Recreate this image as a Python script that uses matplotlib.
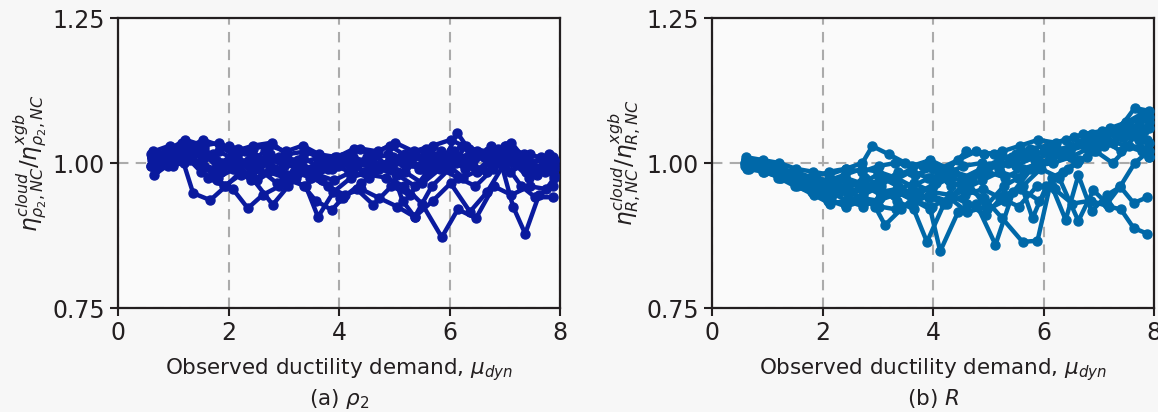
import matplotlib
matplotlib.use("Agg")
import matplotlib.pyplot as plt

# Ratio of cloud-based to XGBoost-based efficiency vs observed ductility demand
# (a) spectral-shape parameter rho_2
MU_RHO2 = [
    [0.62, 0.95, 1.22, 1.55, 1.83, 2.10, 2.45, 2.78, 3.05, 3.40, 3.72, 4.05, 4.38, 4.70, 5.02, 5.35, 5.70, 6.02, 6.35, 6.70, 7.02, 7.35, 7.65, 7.90],
    [0.60, 0.88, 1.18, 1.46, 1.75, 2.05, 2.36, 2.66, 2.98, 3.30, 3.62, 3.92, 4.25, 4.58, 4.90, 5.22, 5.55, 5.86, 6.14, 6.45, 6.80, 7.12, 7.42, 7.72, 7.88],
    [0.65, 0.92, 1.12, 1.36, 1.67, 1.95, 2.22, 2.52, 2.85, 3.15, 3.48, 3.80, 4.12, 4.45, 4.80, 5.12, 5.45, 5.78, 6.08, 6.42, 6.75, 7.05, 7.38, 7.70, 7.90],
    [0.62, 0.90, 1.20, 1.50, 1.80, 2.08, 2.35, 2.62, 2.92, 3.22, 3.55, 3.85, 4.18, 4.50, 4.82, 5.15, 5.48, 5.80, 6.12, 6.45, 6.78, 7.10, 7.40, 7.70, 7.88],
    [0.68, 0.98, 1.28, 1.58, 1.88, 2.18, 2.48, 2.80, 3.10, 3.40, 3.62, 3.90, 4.22, 4.55, 4.88, 5.20, 5.52, 5.85, 6.18, 6.50, 6.82, 7.15, 7.45, 7.75, 7.90],
    [0.60, 0.90, 1.15, 1.45, 1.72, 2.00, 2.30, 2.60, 2.92, 3.25, 3.55, 3.88, 4.20, 4.52, 4.85, 5.18, 5.50, 5.86, 6.15, 6.48, 6.80, 7.12, 7.45, 7.75, 7.90],
    [0.64, 0.94, 1.25, 1.55, 1.85, 2.15, 2.45, 2.75, 3.05, 3.35, 3.68, 4.00, 4.32, 4.65, 4.98, 5.30, 5.62, 5.95, 6.28, 6.60, 6.92, 7.15, 7.37, 7.62, 7.88],
    [0.70, 1.00, 1.30, 1.62, 1.92, 2.22, 2.55, 2.88, 3.18, 3.50, 3.80, 4.10, 4.40, 4.72, 5.05, 5.37, 5.70, 6.02, 6.37, 6.68, 7.00, 7.30, 7.55, 7.87],
    [0.62, 0.92, 1.22, 1.52, 1.82, 2.12, 2.42, 2.80, 3.08, 3.38, 3.70, 4.02, 4.32, 4.62, 4.95, 5.28, 5.60, 5.92, 6.25, 6.58, 6.92, 7.25, 7.55, 7.85],
    [0.66, 0.96, 1.26, 1.56, 1.86, 2.16, 2.46, 2.76, 3.06, 3.36, 3.58, 3.87, 4.07, 4.40, 4.72, 5.05, 5.38, 5.70, 6.02, 6.35, 6.68, 7.00, 7.32, 7.62, 7.90],
    [0.60, 0.90, 1.20, 1.48, 1.78, 2.08, 2.38, 2.70, 3.00, 3.32, 3.65, 3.98, 4.30, 4.62, 4.95, 5.15, 5.37, 5.68, 6.00, 6.30, 6.62, 6.95, 7.28, 7.58, 7.88],
    [0.64, 0.94, 1.24, 1.54, 1.84, 2.14, 2.44, 2.74, 3.04, 3.34, 3.64, 3.96, 4.28, 4.60, 4.92, 5.25, 5.58, 5.90, 6.22, 6.55, 6.88, 7.20, 7.50, 7.80],
    [0.63, 0.93, 1.23, 1.53, 1.83, 2.13, 2.43, 2.73, 3.03, 3.33, 3.63, 3.93, 4.25, 4.57, 4.89, 5.21, 5.53, 5.85, 6.17, 6.49, 6.81, 7.13, 7.45, 7.75, 7.90],
    [0.61, 0.91, 1.21, 1.51, 1.81, 2.11, 2.41, 2.71, 3.01, 3.31, 3.61, 3.91, 4.23, 4.55, 4.87, 5.19, 5.51, 5.83, 6.15, 6.47, 6.79, 7.11, 7.43, 7.73, 7.90],
]
ETA_RHO2 = [
    [1.010, 1.025, 1.040, 1.030, 1.035, 1.020, 1.030, 1.035, 1.015, 1.020, 1.005, 1.010, 1.025, 1.020, 1.035, 1.020, 1.030, 1.040, 1.025, 1.020, 1.030, 1.015, 1.010, 1.005],
    [0.995, 1.015, 1.030, 1.000, 0.990, 1.005, 1.000, 1.020, 1.005, 0.985, 1.000, 0.995, 1.010, 1.000, 0.990, 1.005, 1.015, 0.995, 1.052, 1.010, 1.020, 1.035, 1.000, 1.005, 1.010],
    [1.000, 1.010, 1.020, 0.948, 0.936, 0.960, 0.985, 0.970, 0.990, 1.000, 0.975, 0.990, 1.000, 0.985, 0.995, 1.010, 0.990, 1.000, 1.020, 0.995, 1.030, 1.010, 0.985, 0.995, 0.990],
    [1.005, 1.000, 1.015, 0.985, 0.970, 0.955, 0.922, 0.945, 0.960, 0.975, 0.990, 1.000, 0.985, 1.010, 0.995, 1.000, 0.990, 1.010, 1.000, 1.015, 1.000, 0.985, 1.000, 0.990, 1.000],
    [0.990, 1.005, 1.030, 1.010, 1.000, 1.025, 1.010, 0.990, 0.970, 0.960, 0.907, 0.950, 0.975, 0.985, 1.000, 1.015, 1.005, 0.995, 1.010, 1.020, 1.005, 1.000, 1.015, 1.005, 1.000],
    [1.015, 1.020, 1.035, 1.025, 1.015, 1.030, 1.020, 1.000, 1.010, 1.005, 0.985, 0.990, 1.005, 0.980, 0.975, 0.960, 0.930, 0.872, 0.920, 0.905, 0.960, 0.945, 0.960, 0.955, 0.975],
    [1.005, 1.020, 1.010, 1.025, 1.000, 1.010, 0.995, 1.015, 1.000, 1.010, 0.990, 1.005, 1.000, 0.990, 1.010, 1.000, 1.020, 1.010, 0.990, 1.015, 1.005, 0.925, 0.878, 0.945, 0.960],
    [1.000, 0.995, 1.005, 0.975, 0.960, 0.980, 0.990, 0.965, 0.985, 0.975, 0.960, 0.945, 0.955, 0.940, 0.925, 0.907, 0.935, 0.965, 0.916, 0.950, 1.000, 0.960, 0.941, 0.941],
    [1.010, 1.000, 1.015, 1.020, 0.990, 1.000, 0.975, 0.928, 0.960, 0.985, 0.970, 0.940, 0.955, 0.928, 0.960, 0.945, 0.985, 1.000, 0.975, 0.990, 1.010, 1.000, 0.985, 0.995],
    [0.980, 1.000, 1.010, 0.995, 0.985, 1.000, 1.010, 0.995, 0.980, 0.960, 0.935, 0.919, 0.940, 0.965, 0.990, 0.980, 0.960, 0.990, 1.020, 1.000, 0.985, 1.030, 0.995, 0.990, 1.005],
    [0.995, 1.010, 1.000, 1.015, 1.005, 0.990, 1.005, 1.010, 0.995, 1.000, 1.010, 0.995, 1.000, 1.015, 0.990, 0.935, 0.907, 0.960, 0.990, 1.030, 1.010, 1.000, 1.005, 0.980, 0.985],
    [1.020, 1.030, 1.025, 1.040, 1.030, 1.010, 1.025, 1.030, 1.020, 1.030, 1.015, 1.010, 1.025, 1.015, 1.030, 1.010, 1.025, 1.005, 1.030, 1.015, 1.025, 1.010, 1.000, 1.015],
    [1.000, 1.015, 1.025, 1.010, 1.020, 1.005, 0.985, 1.000, 1.010, 0.990, 0.995, 1.010, 0.990, 1.005, 1.015, 0.995, 1.000, 1.020, 1.005, 0.985, 1.015, 1.020, 0.990, 1.000, 0.995],
    [1.010, 0.995, 1.020, 0.995, 0.975, 0.990, 0.970, 0.985, 0.975, 0.995, 0.980, 0.970, 0.985, 0.975, 0.995, 0.985, 0.965, 0.990, 0.975, 0.960, 0.990, 1.005, 0.975, 0.985, 0.980],
]

# (b) strength-reduction factor R
MU_R = [
    [0.62, 0.92, 1.22, 1.52, 1.82, 2.12, 2.42, 2.72, 2.90, 3.20, 3.50, 3.82, 4.12, 4.45, 4.78, 5.10, 5.42, 5.75, 6.08, 6.40, 6.72, 7.05, 7.38, 7.65, 7.90],
    [0.60, 0.90, 1.20, 1.50, 1.80, 2.10, 2.40, 2.70, 2.95, 3.13, 3.42, 3.75, 4.05, 4.38, 4.70, 5.02, 5.35, 5.68, 6.00, 6.32, 6.65, 6.98, 7.30, 7.60, 7.88],
    [0.64, 0.94, 1.24, 1.54, 1.84, 2.14, 2.44, 2.74, 3.04, 3.34, 3.65, 3.89, 4.20, 4.52, 4.85, 5.18, 5.50, 5.82, 6.15, 6.48, 6.80, 7.12, 7.45, 7.75, 7.90],
    [0.66, 0.96, 1.26, 1.56, 1.86, 2.16, 2.46, 2.76, 3.06, 3.36, 3.66, 3.95, 4.13, 4.45, 4.78, 5.13, 5.45, 5.78, 6.10, 6.42, 6.75, 7.08, 7.40, 7.70, 7.88],
    [0.62, 0.92, 1.22, 1.52, 1.82, 2.12, 2.42, 2.72, 3.02, 3.32, 3.62, 3.95, 4.28, 4.60, 4.92, 5.25, 5.62, 5.89, 6.15, 6.45, 6.78, 7.10, 7.42, 7.72, 7.90],
    [0.60, 0.90, 1.20, 1.50, 1.80, 2.10, 2.40, 2.70, 3.00, 3.30, 3.60, 3.92, 4.25, 4.58, 4.90, 5.22, 5.55, 5.88, 6.20, 6.52, 6.85, 7.18, 7.40, 7.63, 7.88],
    [0.64, 0.94, 1.24, 1.54, 1.84, 2.14, 2.44, 2.74, 3.04, 3.34, 3.66, 3.98, 4.30, 4.62, 4.95, 5.28, 5.60, 5.92, 6.15, 6.40, 6.63, 6.87, 7.15, 7.39, 7.63, 7.88],
    [0.66, 0.96, 1.26, 1.56, 1.86, 2.16, 2.46, 2.76, 3.06, 3.36, 3.68, 4.00, 4.32, 4.65, 4.98, 5.30, 5.62, 5.95, 6.28, 6.63, 6.90, 7.15, 7.39, 7.65, 7.90],
    [0.62, 0.92, 1.22, 1.52, 1.82, 2.12, 2.42, 2.72, 3.02, 3.32, 3.62, 3.95, 4.28, 4.60, 4.92, 5.25, 5.58, 5.90, 6.22, 6.55, 6.88, 7.20, 7.50, 7.78, 7.90],
    [0.60, 0.90, 1.20, 1.50, 1.80, 2.10, 2.40, 2.70, 3.00, 3.30, 3.60, 3.90, 4.22, 4.55, 4.88, 5.20, 5.52, 5.85, 6.18, 6.50, 6.82, 7.15, 7.48, 7.78, 7.90],
    [0.64, 0.94, 1.24, 1.54, 1.84, 2.14, 2.44, 2.74, 3.04, 3.34, 3.66, 3.98, 4.30, 4.62, 4.95, 5.28, 5.55, 5.80, 6.05, 6.35, 6.65, 6.95, 7.25, 7.55, 7.88],
    [0.66, 0.96, 1.26, 1.56, 1.86, 2.16, 2.46, 2.76, 3.06, 3.36, 3.68, 4.00, 4.32, 4.65, 4.98, 5.30, 5.62, 5.95, 6.28, 6.60, 6.92, 7.25, 7.55, 7.82],
    [0.63, 0.93, 1.23, 1.53, 1.83, 2.13, 2.43, 2.73, 3.03, 3.33, 3.63, 3.93, 4.25, 4.57, 4.89, 5.21, 5.53, 5.85, 6.17, 6.49, 6.81, 7.13, 7.45, 7.75, 7.90],
    [0.61, 0.91, 1.21, 1.51, 1.81, 2.11, 2.41, 2.71, 3.01, 3.31, 3.61, 3.91, 4.23, 4.55, 4.87, 5.19, 5.51, 5.83, 6.15, 6.47, 6.79, 7.11, 7.43, 7.73, 7.90],
]
ETA_R = [
    [1.005, 1.000, 0.990, 0.980, 0.975, 0.985, 0.990, 1.000, 1.029, 1.015, 1.000, 0.995, 0.990, 1.005, 1.020, 1.015, 1.010, 1.025, 1.030, 1.040, 1.050, 1.055, 1.060, 1.095, 1.090],
    [1.000, 0.995, 0.985, 0.970, 0.960, 0.945, 0.955, 0.940, 0.925, 0.893, 0.920, 0.950, 0.965, 0.985, 0.975, 0.995, 1.000, 1.010, 1.020, 1.015, 1.035, 1.040, 1.050, 1.060, 1.040],
    [0.995, 0.990, 0.980, 0.965, 0.955, 0.950, 0.935, 0.945, 0.960, 0.935, 0.920, 0.864, 0.930, 0.960, 0.985, 1.000, 0.995, 1.010, 1.030, 1.020, 1.045, 1.050, 1.065, 1.075, 1.080],
    [1.000, 0.995, 0.985, 0.970, 0.955, 0.940, 0.950, 0.960, 0.945, 0.950, 0.935, 0.920, 0.848, 0.915, 0.930, 0.859, 0.950, 0.990, 1.005, 1.020, 1.030, 1.040, 1.020, 1.050, 1.060],
    [1.005, 0.995, 0.990, 0.975, 0.965, 0.960, 0.970, 0.955, 0.965, 0.975, 0.960, 0.975, 0.970, 0.955, 0.940, 0.905, 0.864, 0.866, 0.975, 0.990, 1.010, 1.030, 1.045, 1.040, 1.010],
    [0.995, 0.990, 0.975, 0.960, 0.950, 0.935, 0.930, 0.940, 0.935, 0.945, 0.950, 0.940, 0.930, 0.945, 0.955, 0.940, 0.925, 0.960, 0.955, 0.930, 0.935, 0.925, 0.920, 0.888, 0.878],
    [1.000, 0.995, 0.980, 0.975, 0.960, 0.955, 0.960, 0.970, 0.950, 0.955, 0.965, 0.950, 0.945, 0.930, 0.910, 0.945, 0.955, 0.935, 0.960, 0.902, 0.979, 0.917, 0.945, 0.959, 0.931, 0.941],
    [0.990, 0.995, 0.985, 0.965, 0.950, 0.960, 0.945, 0.955, 0.975, 0.960, 0.945, 0.960, 0.975, 0.965, 0.920, 0.935, 0.960, 0.990, 0.975, 0.900, 0.953, 0.930, 0.960, 1.000, 1.020],
    [1.010, 1.005, 1.000, 0.990, 0.985, 0.980, 0.990, 0.985, 0.995, 1.000, 0.995, 1.005, 0.990, 1.020, 1.015, 1.020, 1.030, 1.040, 1.035, 1.045, 1.050, 1.060, 1.070, 1.085, 1.070],
    [1.000, 0.990, 0.985, 0.975, 0.970, 0.965, 0.975, 0.965, 0.980, 0.970, 0.985, 0.975, 0.980, 0.995, 1.000, 0.990, 1.010, 1.005, 1.020, 1.030, 1.025, 1.040, 1.030, 1.020, 1.010],
    [0.995, 0.985, 0.975, 0.960, 0.945, 0.930, 0.935, 0.925, 0.940, 0.950, 0.935, 0.925, 0.940, 0.915, 0.925, 0.960, 0.975, 0.905, 0.960, 0.985, 1.005, 1.020, 1.000, 1.030, 1.025],
    [1.000, 1.000, 0.990, 0.980, 0.965, 0.970, 0.955, 0.975, 0.960, 0.985, 0.980, 0.990, 0.960, 0.970, 0.985, 0.975, 0.990, 1.000, 1.015, 1.000, 1.020, 1.035, 1.050, 1.055],
    [0.990, 0.985, 0.975, 0.965, 0.950, 0.935, 0.925, 0.935, 0.925, 0.920, 0.930, 0.945, 0.935, 0.955, 0.970, 0.985, 0.975, 0.995, 1.000, 1.010, 1.025, 1.035, 1.045, 1.040, 1.035],
    [1.005, 1.000, 0.990, 0.985, 0.975, 0.970, 0.980, 0.990, 0.985, 0.975, 0.990, 1.000, 0.985, 0.975, 0.990, 1.005, 1.015, 1.020, 1.010, 1.025, 1.040, 1.045, 1.055, 1.065, 1.060],
]

X_TICKS = [0, 2, 4, 6, 8]
Y_TICKS = [0.75, 1.00, 1.25]
Y_TICK_LABELS = ["0.75", "1.00", "1.25"]

PANELS = [
    (MU_RHO2, ETA_RHO2, "#0a1a9e",
     r"$\eta^{cloud}_{\rho_2,NC}/\eta^{xgb}_{\rho_2,NC}$",
     "Observed ductility demand, $\\mu_{dyn}$\n(a) $\\rho_2$"),
    (MU_R, ETA_R, "#0068a8",
     r"$\eta^{cloud}_{R,NC}/\eta^{xgb}_{R,NC}$",
     "Observed ductility demand, $\\mu_{dyn}$\n(b) $R$"),
]

TEXT = "#231f20"
plt.rcParams["font.family"] = ["DejaVu Sans"]
plt.rcParams["mathtext.fontset"] = "dejavusans"

fig = plt.figure(figsize=(11.58, 4.12), dpi=100, facecolor="#f7f7f7")
positions = [
    [0.1019, 0.2524, 0.3817, 0.7039],
    [0.6149, 0.2524, 0.3817, 0.7039],
]

for pos, (mus, etas, color, ylab, xlab) in zip(positions, PANELS):
    ax = fig.add_axes(pos)
    ax.set_facecolor("#fafafa")
    for mu, eta in zip(mus, etas):
        ax.plot(mu, eta, "-o", color=color, lw=3.2, ms=6.5, zorder=3)
    ax.set_xlim(0, 8)
    ax.set_ylim(0.75, 1.25)
    ax.set_xticks(X_TICKS)
    ax.set_yticks(Y_TICKS)
    ax.set_yticklabels(Y_TICK_LABELS)
    ax.grid(True, ls=(0, (5, 3.5)), color="#ababab", lw=1.5, zorder=1)
    ax.tick_params(labelsize=17, colors=TEXT, length=6, width=1.5)
    for sp in ax.spines.values():
        sp.set_color(TEXT)
        sp.set_linewidth(1.6)
    ax.set_xlabel(xlab, fontsize=15.5, color=TEXT, linespacing=1.2, labelpad=8)
    ax.set_ylabel(ylab, fontsize=16.5, color=TEXT, labelpad=2)

fig.savefig("out.png", dpi=100, facecolor=fig.get_facecolor())
